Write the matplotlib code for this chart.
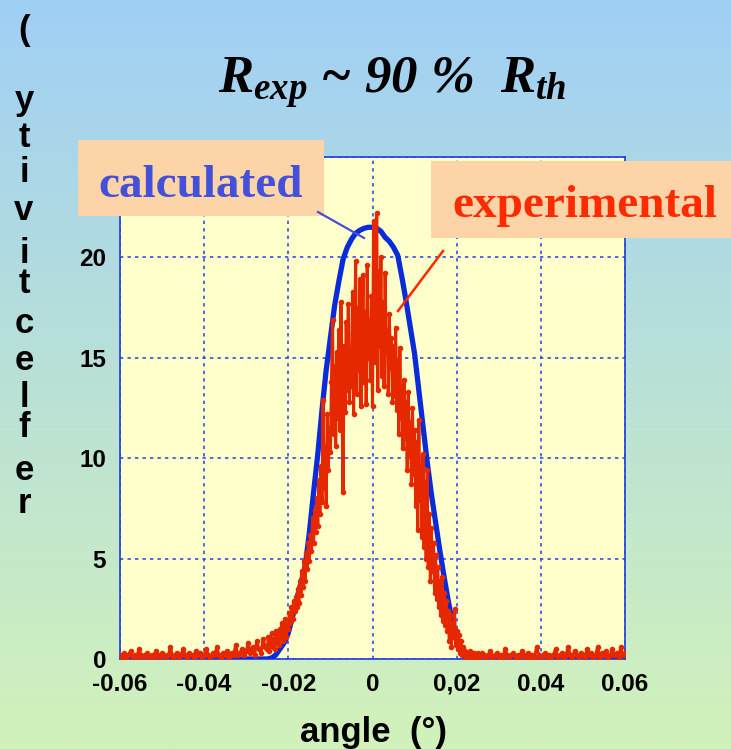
import numpy as np
import matplotlib
matplotlib.use("Agg")
from matplotlib import pyplot as plt
from matplotlib.patches import Rectangle
from matplotlib.lines import Line2D

plt.rcParams['mathtext.fontset'] = 'custom'
plt.rcParams['mathtext.it'] = 'Liberation Serif:italic:bold'
plt.rcParams['mathtext.rm'] = 'Liberation Serif:italic:bold'

# experimental scan: coarse steps in the tails, fine steps across the peak
left_angle = np.round(-0.06 + 0.0005 * np.arange(70), 5)
left_refl = [
    0.2, 0.1, 0.3, 0.1, 0.2, 0.4, 0.1, 0.2, 0.1, 0.5,
    0.2, 0.1, 0.2, 0.3, 0.1, 0.2, 0.1, 0.4, 0.2, 0.1,
    0.3, 0.2, 0.1, 0.2, 0.6, 0.1, 0.2, 0.3, 0.1, 0.2,
    0.5, 0.2, 0.1, 0.3, 0.2, 0.1, 0.4, 0.2, 0.3, 0.1,
    0.2, 0.5, 0.2, 0.1, 0.3, 0.2, 0.6, 0.2, 0.1, 0.3,
    0.2, 0.4, 0.1, 0.3, 0.2, 0.7, 0.2, 0.3, 0.5, 0.2,
    0.4, 0.8, 0.3, 0.6, 0.2, 0.9, 0.5, 0.3, 1.0, 0.6,
]
core_angle = np.round(-0.025 + 0.00025 * np.arange(201), 5)
core_refl = [
    0.5, 1.1, 0.4, 0.9, 1.3, 0.6, 1.0, 0.5, 1.4, 0.8,
    1.2, 0.7, 1.5, 1.0, 1.8, 0.9, 1.3, 2.0, 1.1, 1.7,
    1.5, 2.3, 1.8, 2.6, 2.0, 2.9, 2.4, 3.1, 2.6, 3.5,
    2.8, 3.9, 3.2, 4.4, 3.6, 4.9, 3.9, 5.3, 4.5, 5.8,
    4.9, 6.2, 5.4, 7.0, 5.8, 7.4, 6.3, 8.0, 6.6, 8.9,
    7.2, 9.6, 7.8, 12.9, 8.5, 10.6, 7.6, 12.2, 9.4, 11.5,
    10.3, 13.8, 16.9, 11.2, 14.6, 10.6, 15.3, 12.0, 16.4, 11.4,
    17.8, 13.1, 8.3, 15.6, 12.3, 16.8, 13.4, 17.7, 12.8, 15.2,
    13.6, 18.3, 12.2, 16.1, 19.8, 13.2, 17.5, 14.4, 18.9, 12.6,
    16.2, 19.1, 13.8, 17.3, 12.7, 19.6, 15.0, 16.9, 13.9, 18.1,
    12.6, 21.8, 14.8, 18.2, 22.2, 13.4, 19.3, 15.6, 20.0, 14.1,
    17.8, 13.6, 19.2, 15.3, 16.4, 13.2, 17.2, 14.5, 16.0, 12.8,
    15.6, 13.1, 16.5, 12.4, 14.9, 11.2, 15.5, 12.0, 13.6, 10.5,
    13.9, 11.0, 12.8, 9.4, 13.3, 10.1, 11.8, 8.7, 12.5, 9.2,
    11.4, 7.6, 10.8, 6.4, 11.9, 7.9, 9.6, 6.1, 10.2, 5.6,
    8.8, 5.0, 9.4, 4.6, 7.2, 3.9, 6.5, 4.4, 5.8, 3.3,
    5.2, 3.0, 4.6, 2.6, 3.9, 2.2, 4.1, 1.9, 3.3, 1.7,
    2.9, 1.4, 2.4, 0.9, 2.2, 0.6, 1.8, 1.1, 2.5, 0.7,
    1.4, 0.5, 1.2, 0.3, 0.9, 0.2, 0.6, 0.2, 0.4, 0.1,
    0.3, 0.1, 0.2, 0.4, 0.1, 0.2, 0.3, 0.1, 0.2, 0.1, 0.3,
]
right_angle = np.round(0.0255 + 0.0005 * np.arange(70), 5)
right_refl = [
    0.1, 0.3, 0.2, 0.1, 0.2, 0.4, 0.1, 0.2, 0.3,
    0.1, 0.2, 0.1, 0.5, 0.2, 0.1, 0.2, 0.3, 0.1, 0.2,
    0.1, 0.4, 0.2, 0.1, 0.3, 0.1, 0.2, 0.1, 0.6, 0.2,
    0.1, 0.2, 0.3, 0.1, 0.2, 0.1, 0.2, 0.5, 0.1, 0.2,
    0.3, 0.1, 0.2, 0.6, 0.2, 0.1, 0.4, 0.2, 0.1, 0.3,
    0.2, 0.1, 0.5, 0.2, 0.3, 0.1, 0.2, 0.6, 0.1, 0.3,
    0.2, 0.4, 0.1, 0.2, 0.5, 0.2, 0.3, 0.1, 0.6, 0.2,
    0.3,
]
exp_angle = np.concatenate([left_angle, core_angle, right_angle])
exp_refl = left_refl + core_refl + right_refl

# calculated curve
calc_angle = [-0.06, -0.03, -0.025, -0.024, -0.023, -0.022, -0.021, -0.02,
              -0.019, -0.018, -0.017, -0.016, -0.015, -0.014, -0.013, -0.012,
              -0.011, -0.01, -0.009, -0.008, -0.007, -0.006, -0.005, -0.004,
              -0.003, -0.002, -0.001, 0.0, 0.001, 0.002, 0.003, 0.004, 0.005,
              0.006, 0.007, 0.008, 0.009, 0.01, 0.011, 0.012, 0.013, 0.014,
              0.015, 0.016, 0.017, 0.018, 0.019, 0.02, 0.021, 0.022, 0.023,
              0.03, 0.06]
calc_refl = [0.0, 0.0, 0.0, 0.05, 0.2, 0.5, 0.8, 1.3,
             2.1, 3.0, 3.8, 4.6, 6.3, 8.3, 10.2, 12.4,
             14.4, 16.0, 17.6, 18.8, 19.9, 20.5, 20.9, 21.2,
             21.35, 21.45, 21.5, 21.5, 21.45, 21.3, 21.0, 20.8, 20.5,
             20.1, 19.0, 17.8, 16.5, 15.2, 13.4, 11.6, 9.8, 8.2,
             6.8, 5.4, 4.1, 2.9, 1.8, 1.0, 0.4, 0.1, 0.0,
             0.0, 0.0]

xticks = [-0.06, -0.04, -0.02, 0, 0.02, 0.04, 0.06]
xtick_labels = ['-0.06', '-0.04', '-0.02', '0', '0,02', '0.04', '0.06']
yticks = [0, 5, 10, 15, 20, 25]
ytick_labels = ['0', '5', '10', '15', '20', '']

W, H = 731, 749
fig = plt.figure(figsize=(W / 100, H / 100), dpi=100)

def fx(x):
    return x / W

def fy(y):
    return 1 - y / H

# background gradient blue -> green
bg = fig.add_axes([0, 0, 1, 1], zorder=-10)
top = np.array([160, 207, 245]) / 255
bot = np.array([210, 242, 186]) / 255
t = np.linspace(0, 1, 256)[:, None]
grad = top[None, :] * (1 - t) + bot[None, :] * t
bg.imshow(grad[:, None, :], aspect='auto', extent=[0, 1, 0, 1])
bg.axis('off')

ax = fig.add_axes([fx(120), fy(659), fx(625) - fx(120), fy(157) - fy(659)])
ax.set_facecolor('#FFFFCC')
ax.plot(calc_angle, calc_refl, color='#0A2BD9', lw=3.8, zorder=3)
ax.plot(exp_angle, exp_refl, color='#E62800', lw=2.2, marker='o', ms=3.0, zorder=4)

ax.set_xlim(-0.06, 0.06)
ax.set_ylim(0, 25)
ax.set_xticks(xticks)
ax.set_xticklabels(xtick_labels)
ax.set_yticks(yticks)
ax.set_yticklabels(ytick_labels)
ax.grid(True, color='#2E4FE6', lw=1.2, ls=(0, (2, 2.5)))
ax.set_axisbelow(True)
ax.tick_params(length=0, labelsize=17.5)
ax.tick_params(axis='x', pad=10)
ax.tick_params(axis='y', pad=10)
for lab in ax.get_xticklabels() + ax.get_yticklabels():
    lab.set_fontfamily('Liberation Sans')
    lab.set_fontweight('bold')
for sp in ax.spines.values():
    sp.set_color('#1E3CE0')
    sp.set_linewidth(1.2)

# title
fig.text(fx(392), fy(93), r'$R_{exp}$ ~ 90 %  $R_{th}$', ha='center', va='baseline',
         family='Liberation Serif', style='italic', weight='bold', size=38)

# rotated-letter y label
ylab_chars = ['(', 'y', 't', 'i', 'v', 'i', 't', 'c', 'e', 'l', 'f', 'e', 'r']
ylab_base = [40, 110, 147, 182, 220, 263, 293, 333, 370, 407, 437, 480, 513]
for ch, yb in zip(ylab_chars, ylab_base):
    fig.text(fx(24), fy(yb), ch, ha='center', va='baseline',
             family='Liberation Sans', weight='bold', size=25)

fig.text(fx(373), fy(742), 'angle  (\u00b0)', ha='center', va='baseline',
         family='Liberation Sans', weight='bold', size=25)

# label boxes
fig.add_artist(Rectangle((fx(78), fy(216)), fx(324) - fx(78), fy(140) - fy(216),
                         transform=fig.transFigure, facecolor='#FDD4A8',
                         edgecolor='none', zorder=5))
fig.add_artist(Rectangle((fx(431), fy(238)), fx(760) - fx(431), fy(161) - fy(238),
                         transform=fig.transFigure, facecolor='#FDD4A8',
                         edgecolor='none', zorder=5))
fig.text(fx(98), fy(197), 'calculated', ha='left', va='baseline', zorder=6,
         family='Liberation Serif', weight='bold', size=34, color='#4450D8')
fig.text(fx(452), fy(217), 'experimental', ha='left', va='baseline', zorder=6,
         family='Liberation Serif', weight='bold', size=34, color='#FF2A00')

fig.add_artist(Line2D([fx(318), fx(364)], [fy(212), fy(238)], transform=fig.transFigure,
                      color='#4450D8', lw=1.6, zorder=7))
fig.add_artist(Line2D([fx(443), fx(398)], [fy(251), fy(311)], transform=fig.transFigure,
                      color='#FF2A00', lw=1.8, zorder=7))

fig.savefig('out.png', dpi=100)
